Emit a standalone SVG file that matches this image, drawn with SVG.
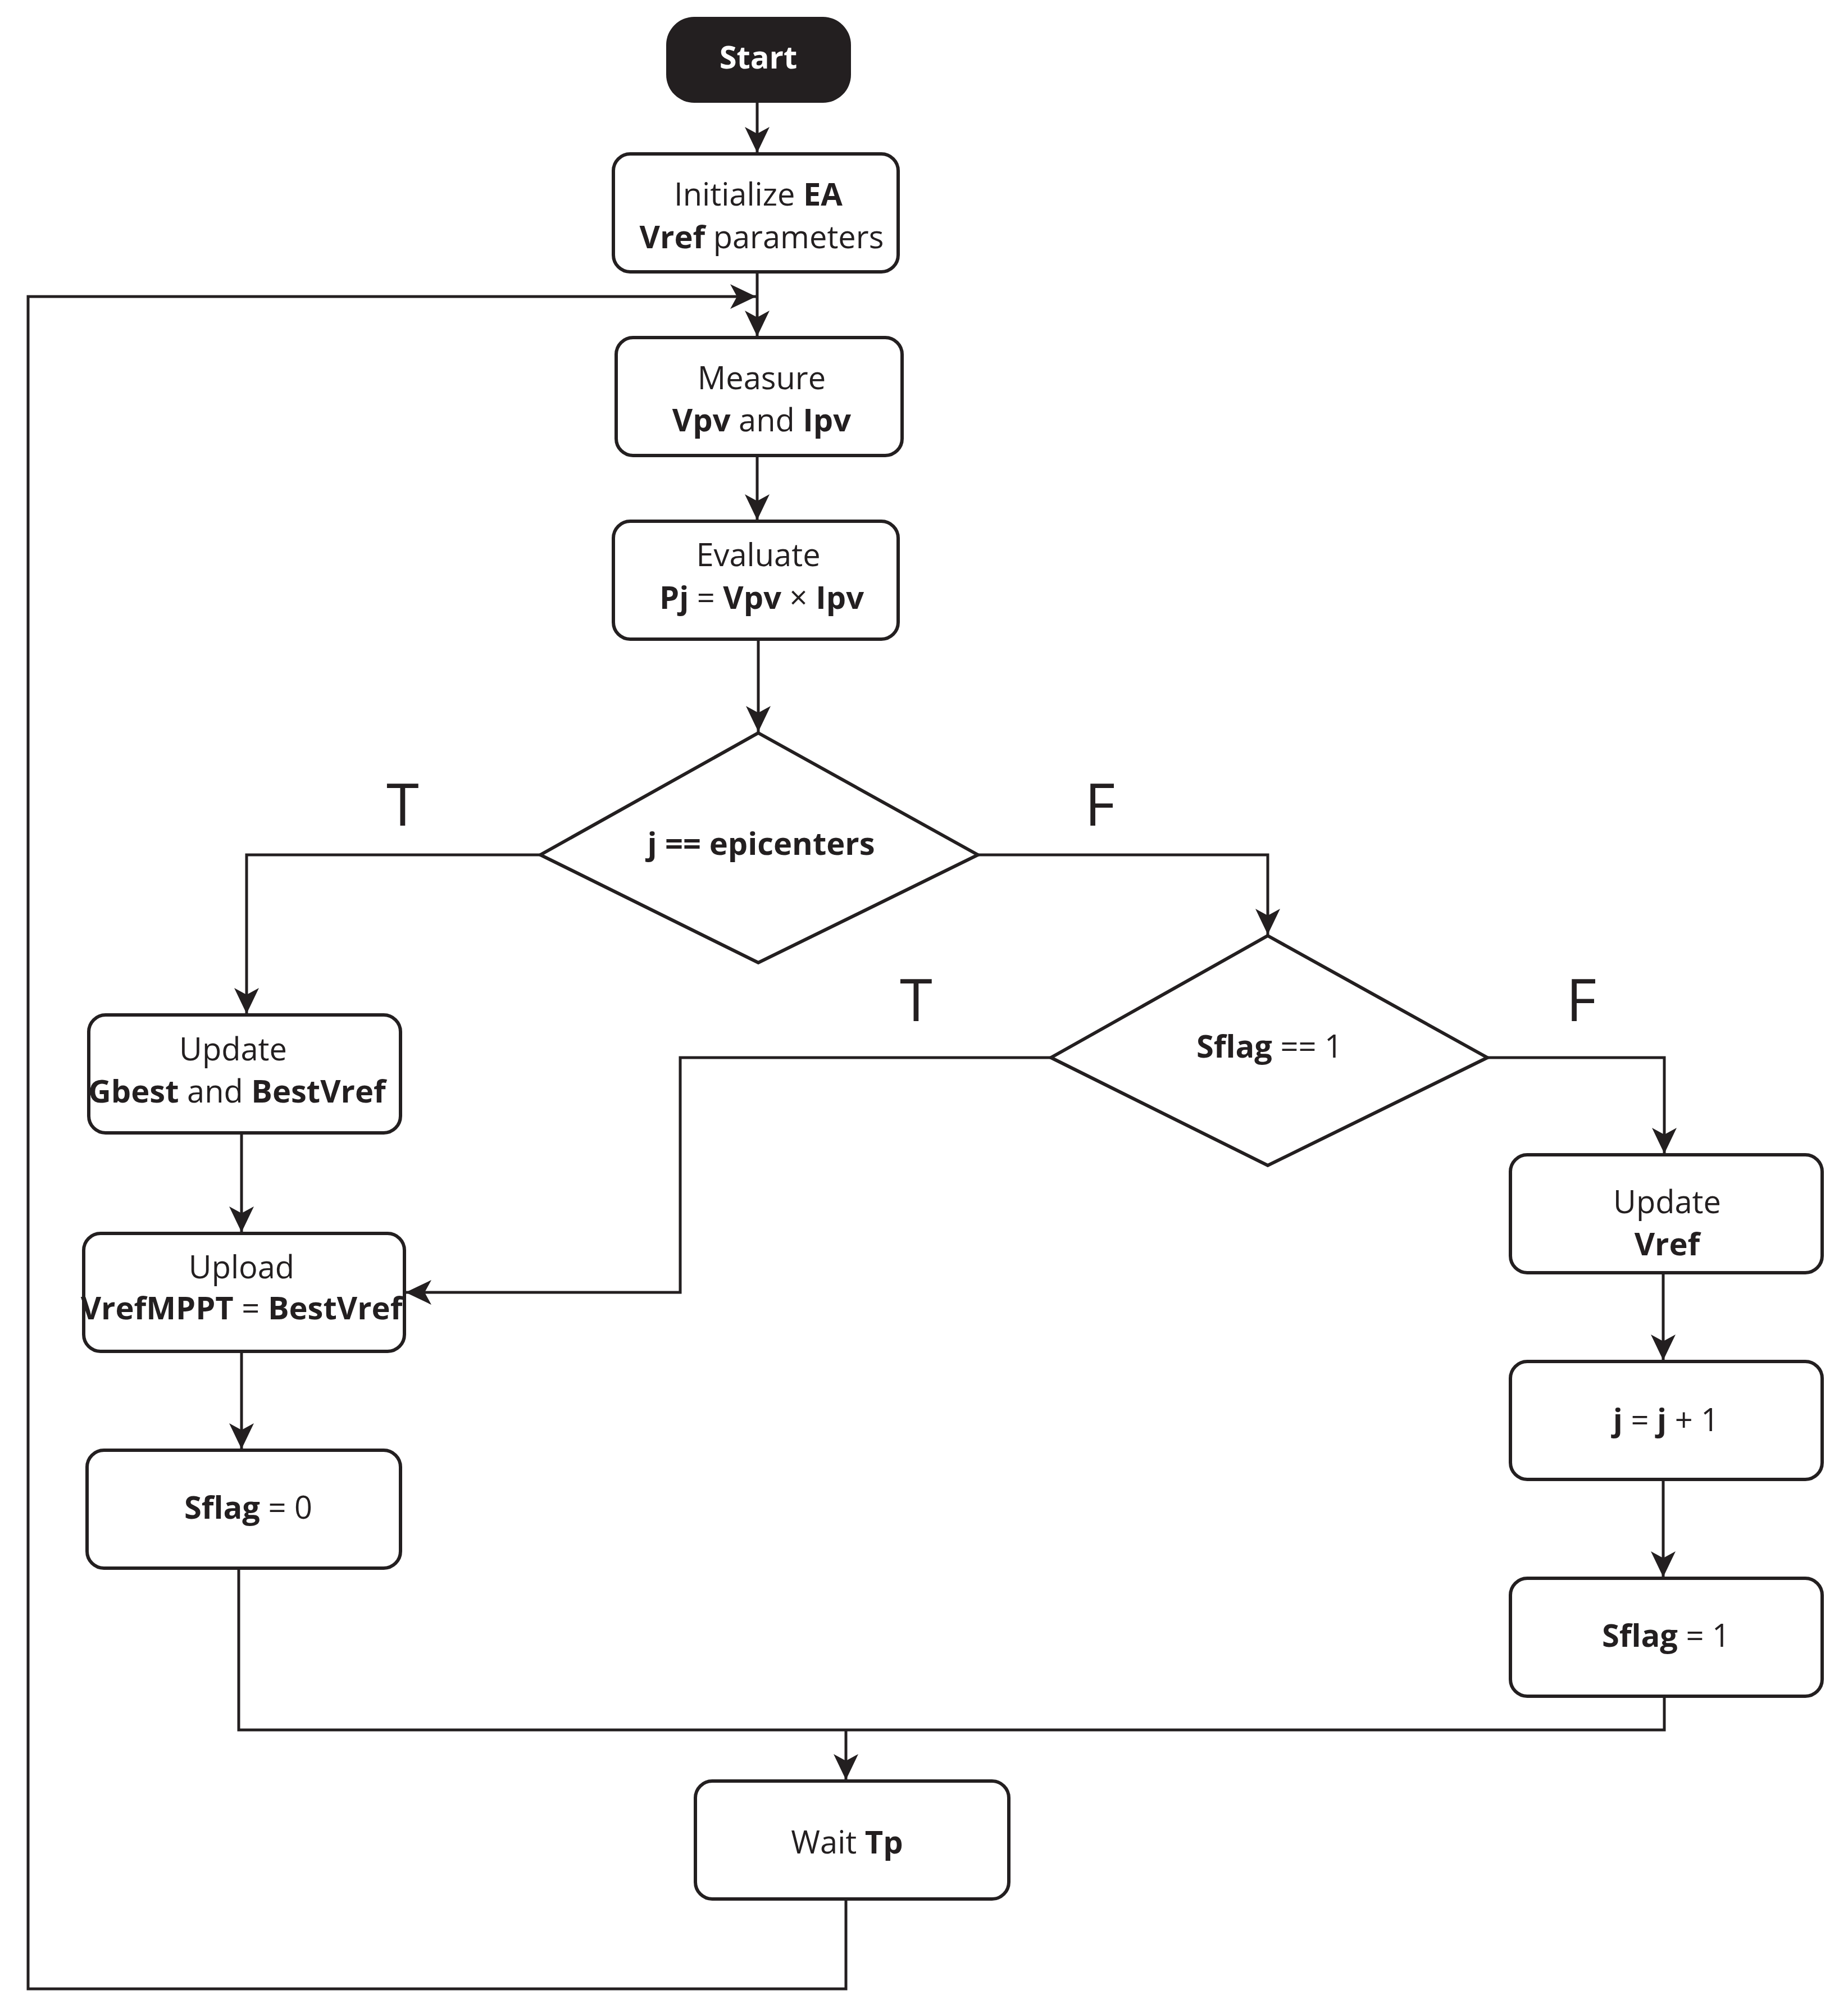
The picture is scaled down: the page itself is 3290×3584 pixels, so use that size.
<svg xmlns="http://www.w3.org/2000/svg" width="3290" height="3584" viewBox="0 0 3290 3584">
<style>
.b{fill:#fff;stroke:#231f20;stroke-width:6}
.c{fill:none;stroke:#231f20;stroke-width:5}
text{font-family:"Open Sans","Noto Sans","Liberation Sans",sans-serif;font-size:56px;fill:#231f20;text-anchor:middle}
.k{font-weight:bold}
.L{font-size:105px}
</style>
<defs>
<marker id="a" markerUnits="userSpaceOnUse" markerWidth="50" markerHeight="44" refX="46" refY="22" orient="auto">
<path d="M0,0 L46,22 L0,44 L12,22 Z" fill="#231f20"/>
</marker>
</defs>
<rect width="3290" height="3584" fill="#fff"/>
<g id="connectors">
<line class="c" x1="1348" y1="183" x2="1348" y2="272" marker-end="url(#a)"/>
<line class="c" x1="1348" y1="484" x2="1348" y2="599" marker-end="url(#a)"/>
<polyline class="c" points="1506,3381 1506,3541 50,3541 50,528 1346,528" marker-end="url(#a)"/>
<line class="c" x1="1348" y1="811" x2="1348" y2="926" marker-end="url(#a)"/>
<line class="c" x1="1350" y1="1138" x2="1350" y2="1303" marker-end="url(#a)"/>
<polyline class="c" points="962,1522 439,1522 439,1805" marker-end="url(#a)"/>
<polyline class="c" points="1741,1522 2257,1522 2257,1664" marker-end="url(#a)"/>
<polyline class="c" points="1871,1883 1211,1883 1211,2301 722,2301" marker-end="url(#a)"/>
<polyline class="c" points="2648,1883 2963,1883 2963,2054" marker-end="url(#a)"/>
<line class="c" x1="2961" y1="2266" x2="2961" y2="2422" marker-end="url(#a)"/>
<line class="c" x1="2961" y1="2634" x2="2961" y2="2808" marker-end="url(#a)"/>
<line class="c" x1="430" y1="2017" x2="430" y2="2194" marker-end="url(#a)"/>
<line class="c" x1="430" y1="2406" x2="430" y2="2580" marker-end="url(#a)"/>
<polyline class="c" points="425,2792 425,3080 2963,3080 2963,3020"/>
<line class="c" x1="1506" y1="3080" x2="1506" y2="3169" marker-end="url(#a)"/>
<text class="L" x="717" y="1470">T</text>
<text class="L" x="1958" y="1470">F</text>
<text class="L" x="1631" y="1818">T</text>
<text class="L" x="2815" y="1818">F</text>
</g>
<g id="start"><rect x="1186" y="30" width="329" height="153" rx="50" fill="#231f20"/><text x="1350" y="122" class="k" style="fill:#fff">Start</text></g>
<g id="init"><rect class="b" x="1092" y="274" width="507" height="210" rx="30"/><text x="1350" y="366">Initialize <tspan class="k">EA</tspan></text><text x="1356" y="442"><tspan class="k">Vref</tspan> parameters</text></g>
<g id="measure"><rect class="b" x="1097" y="601" width="509" height="210" rx="30"/><text x="1356" y="693">Measure</text><text x="1356" y="768"><tspan class="k">Vpv</tspan> and <tspan class="k">Ipv</tspan></text></g>
<g id="evaluate"><rect class="b" x="1092" y="928" width="507" height="210" rx="30"/><text x="1350" y="1008">Evaluate</text><text x="1356" y="1084"><tspan class="k">Pj</tspan> = <tspan class="k">Vpv</tspan> × <tspan class="k">Ipv</tspan></text></g>
<g id="d1"><polygon class="b" points="1350,1305 1741,1522 1350,1714 962,1522"/><text x="1355" y="1522" class="k">j == epicenters</text></g>
<g id="d2"><polygon class="b" points="2257,1666 2648,1883 2257,2075 1871,1883"/><text x="2260" y="1883"><tspan class="k">Sflag</tspan> == 1</text></g>
<g id="gbest"><rect class="b" x="158" y="1807" width="555" height="210" rx="30"/><text x="415" y="1888">Update</text><text x="422" y="1963"><tspan class="k">Gbest</tspan> and <tspan class="k">BestVref</tspan></text></g>
<g id="upload"><rect class="b" x="149" y="2196" width="571" height="210" rx="30"/><text x="430" y="2276">Upload</text><text x="430" y="2349"><tspan class="k">VrefMPPT</tspan> = <tspan class="k">BestVref</tspan></text></g>
<g id="sflag0"><rect class="b" x="155" y="2582" width="558" height="210" rx="30"/><text x="442" y="2704"><tspan class="k">Sflag</tspan> = 0</text></g>
<g id="updvref"><rect class="b" x="2689" y="2056" width="555" height="210" rx="30"/><text x="2968" y="2160">Update</text><text x="2968" y="2235" class="k">Vref</text></g>
<g id="jinc"><rect class="b" x="2689" y="2424" width="555" height="210" rx="30"/><text x="2966" y="2548"><tspan class="k">j</tspan> = <tspan class="k">j</tspan> + 1</text></g>
<g id="sflag1"><rect class="b" x="2689" y="2810" width="555" height="210" rx="30"/><text x="2966" y="2932"><tspan class="k">Sflag</tspan> = 1</text></g>
<g id="wait"><rect class="b" x="1238" y="3171" width="558" height="210" rx="30"/><text x="1508" y="3300">Wait <tspan class="k">Tp</tspan></text></g>
</svg>
